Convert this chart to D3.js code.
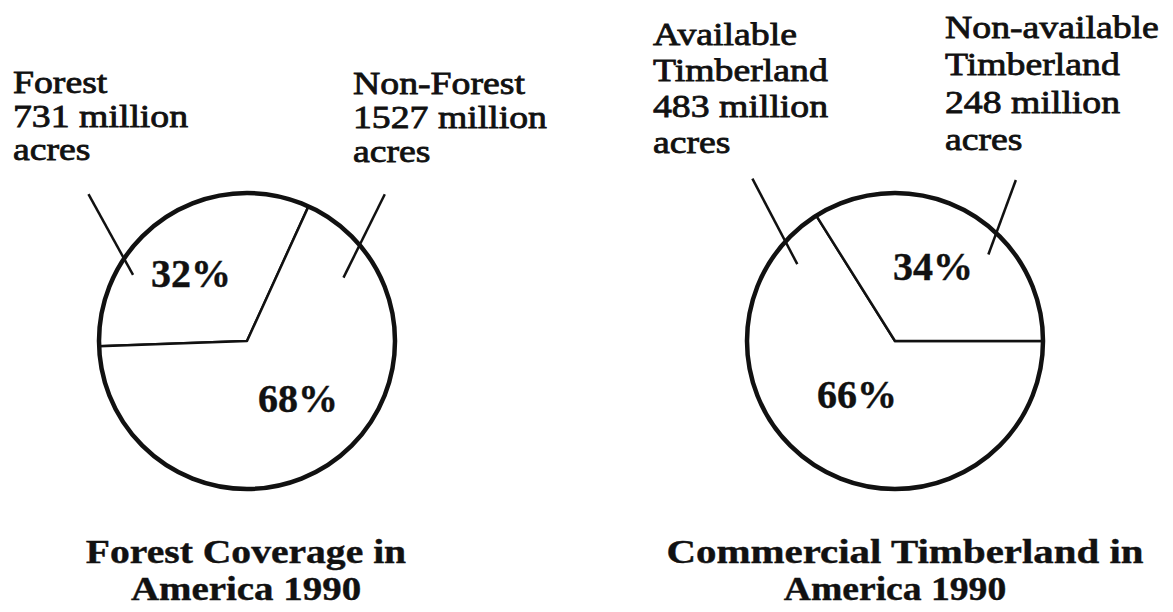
<!DOCTYPE html>
<html lang="en">
<head>
    <meta charset="UTF-8">
    <title>Forest and Timberland</title>
    <script src="https://d3js.org/d3.v7.min.js"></script>
    <style>
        body { margin: 0; background: #fff; }
        text { font-family: 'Liberation Serif', 'Times New Roman', serif; fill: #111; }
        .label { font-size: 32px; stroke: #111; stroke-width: 0.8px; }
        .pct { font-size: 40px; font-weight: bold; stroke: #111; stroke-width: 0.4px; }
        .title { font-size: 33px; font-weight: bold; stroke: #111; stroke-width: 0.4px; }
    </style>
</head>
<body>
<script>
    const width  = 1173;
    const height = 612;

    // data
    const forestCategories = [["Forest"], ["Non-Forest"]];
    const forestAcres      = [731, 1527];
    const timberCategories = [["Available", "Timberland"], ["Non-available", "Timberland"]];
    const timberAcres      = [483, 248];
    const titles = [
        ["Forest Coverage in", "America 1990"],
        ["Commercial Timberland in", "America 1990"]
    ];

    const deg = Math.PI / 180;
    const r = 148;

    // layout for each pie (positions only)
    const charts = [
        {
            cats: forestCategories, values: forestAcres, title: titles[0],
            cx: 247, cy: 341, start: -92 * deg, titleX: 246, titleY: 563, titleSx: [1.2, 1.18],
            labels: [{x: 13, y: 93, dy: 33.5}, {x: 353, y: 94, dy: 34}],
            pct: [{x: 191, y: 287}, {x: 298, y: 412}],
            leaders: [{a0: -59.9, r0: 0.89, a1: -47.2, r1: 1.46}, {a0: 56.7, r0: 0.78, a1: 43.2, r1: 1.36}]
        },
        {
            cats: timberCategories, values: timberAcres, title: titles[1],
            cx: 895, cy: 341, start: 90 * deg, titleX: 905, titleY: 563, titleSx: [1.24, 1.14],
            labels: [{x: 653, y: 45, dy: 36}, {x: 945, y: 38, dy: 37.3}],
            pct: [{x: 857, y: 408}, {x: 933, y: 280}],
            leaders: [{a0: -51.8, r0: 0.84, a1: -41.3, r1: 1.46}, {a0: 47.2, r0: 0.86, a1: 36.9, r1: 1.36}]
        }
    ];

    const svg = d3.select("body")
            .append("svg")
            .attr("width", width)
            .attr("height", height);

    const arc = d3.arc().innerRadius(0).outerRadius(r);
    const polar = (c, a, rr) => [c.cx + rr * r * Math.sin(a * deg), c.cy - rr * r * Math.cos(a * deg)];
    const sx = 1.18;

    charts.forEach(c => {
        const pie = d3.pie().sort(null)
                .startAngle(c.start)
                .endAngle(c.start + 2 * Math.PI);
        const slices = pie(c.values);
        const total = d3.sum(c.values);

        const g = svg.append("g")
                .attr("transform", "translate(" + [c.cx, c.cy] + ")");

        g.selectAll("path")
                .data(slices)
                .enter().append("path")
                .attr("d", arc)
                .style("fill", "#fff")
                .style("stroke", "#111")
                .style("stroke-width", 2.5)
                .style("stroke-linejoin", "round");

        g.append("circle")
                .attr("r", r)
                .style("fill", "none")
                .style("stroke", "#111")
                .style("stroke-width", 4.5);

        // leader lines
        svg.selectAll(null)
                .data(c.leaders)
                .enter().append("line")
                .attr("x1", d => polar(c, d.a0, d.r0)[0])
                .attr("y1", d => polar(c, d.a0, d.r0)[1])
                .attr("x2", d => polar(c, d.a1, d.r1)[0])
                .attr("y2", d => polar(c, d.a1, d.r1)[1])
                .style("stroke", "#111")
                .style("stroke-width", 2.5);

        // category labels
        c.cats.forEach((name, i) => {
            const lines = name.concat([c.values[i] + " million", "acres"]);
            const p = c.labels[i];
            svg.selectAll(null)
                    .data(lines)
                    .enter().append("text")
                    .attr("class", "label")
                    .attr("transform", (d, j) => "translate(" + [p.x, p.y + j * p.dy] + ") scale(" + sx + ",1)")
                    .text(d => d);
        });

        // percentages
        svg.selectAll(null)
                .data(c.values)
                .enter().append("text")
                .attr("class", "pct")
                .attr("text-anchor", "middle")
                .attr("x", (d, i) => c.pct[i].x)
                .attr("y", (d, i) => c.pct[i].y)
                .text(d => Math.round(d / total * 100) + "%");

        // title
        svg.selectAll(null)
                .data(c.title)
                .enter().append("text")
                .attr("class", "title")
                .attr("text-anchor", "middle")
                .attr("transform", (d, j) => "translate(" + [c.titleX - j * 10 * (c.titleX > 500), c.titleY + j * 37] + ") scale(" + c.titleSx[j] + ",1)")
                .text(d => d);
    });
</script>
</body>
</html>
